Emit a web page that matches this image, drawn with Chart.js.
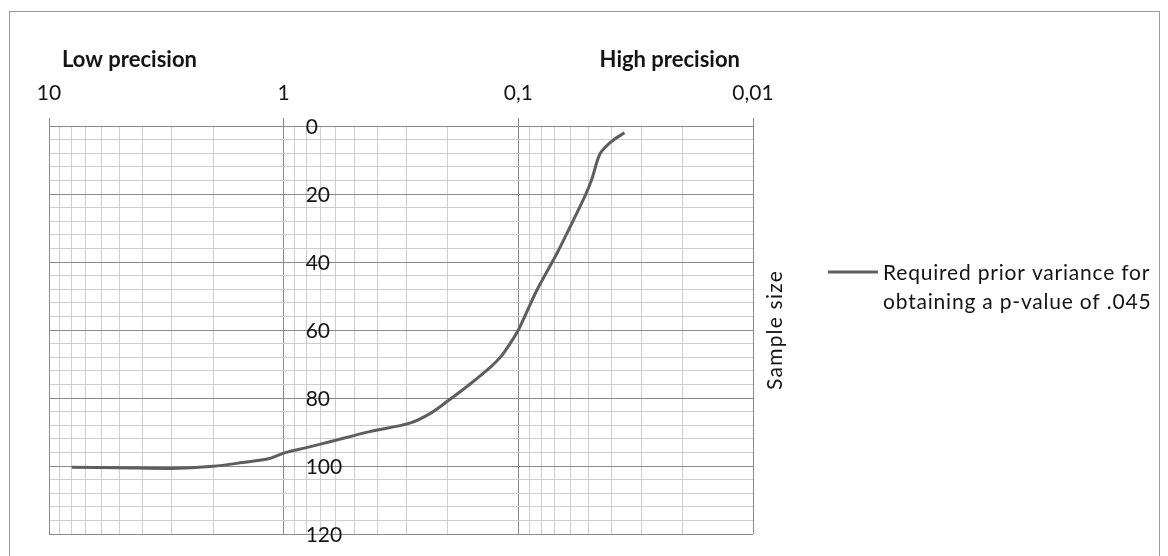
<!DOCTYPE html>
<html><head><meta charset="utf-8">
<script src="https://cdn.jsdelivr.net/npm/chart.js@4/dist/chart.umd.min.js"></script>
<style>html,body{margin:0;padding:0;background:#fff}</style>
</head><body>
<canvas id="c" width="1168" height="556"></canvas>
<script>
// ---- data ----
const priorVariance = [8.0, 5.0, 3.0, 2.0, 1.5, 1.15, 1.0, 0.8, 0.63, 0.43, 0.29, 0.238, 0.2, 0.16, 0.13, 0.118, 0.108, 0.1, 0.0834, 0.0685, 0.0621, 0.0519, 0.0486, 0.0448, 0.04, 0.0353];
const sampleSize    = [100.4, 100.5, 100.7, 100.1, 99.0, 97.8, 96.2, 94.6, 92.8, 89.9, 87.4, 84.6, 80.9, 75.8, 70.6, 67.6, 63.8, 60.0, 48.3, 37.5, 31.6, 20.5, 15.6, 8.1, 4.5, 2.0];
const xTickValues = [10, 1, 0.1, 0.01];
const xTickLabels = ['10', '1', '0,1', '0,01'];
const yTickValues = [0, 20, 40, 60, 80, 100, 120];
const yTickLabels = ['0', '20', '40', '60', '80', '100', '120'];
const legendLines = ['Required prior variance for', 'obtaining a p-value of .045'];
const yTitle = 'Sample size';
const leftNote = 'Low precision';
const rightNote = 'High precision';

const MAJOR = '#8a8a8a', MINOR = '#cdcdcd', LINE = '#5e5e5e';
const FONT = 'Lato';

// grid positions of the log axis: 1..9 within every decade
const decadeStarts = xTickValues.slice(1).reverse(); // 0.01, 0.1, 1
const logGrid = [];
decadeStarts.forEach(d => { for (let k = 1; k <= 9; k++) logGrid.push(k * d); });
logGrid.push(xTickValues[0]);

function decadeIndex(v) {
  return xTickValues.findIndex(t => Math.abs(t - v) / t < 1e-6);
}

const extras = {
  id: 'extras',
  afterDraw(chart) {
    const ctx = chart.ctx, xs = chart.scales.x, ys = chart.scales.y, ca = chart.chartArea;
    ctx.save();
    // outer frame
    ctx.strokeStyle = '#9a9a9a'; ctx.lineWidth = 1;
    ctx.strokeRect(9.5, 11.5, 1150, 600);
    // y tick labels beside x=1 crossing
    ctx.fillStyle = '#141414';
    ctx.font = '21px ' + FONT;
    ctx.textAlign = 'left'; ctx.textBaseline = 'middle';
    const xc = xs.getPixelForValue(1) + 22;
    yTickValues.forEach((v, i) => ctx.fillText(yTickLabels[i], xc, ys.getPixelForValue(v) + 1));
    // precision notes
    ctx.font = 'bold 22px ' + FONT;
    ctx.textAlign = 'left';
    ctx.fillText(leftNote, xs.getPixelForValue(10) + 13, 60);
    ctx.textAlign = 'right';
    ctx.fillText(rightNote, xs.getPixelForValue(0.01) - 13, 60);
    // y title rotated
    ctx.font = '21px ' + FONT;
    ctx.letterSpacing = '1.2px';
    ctx.save();
    ctx.translate(ca.right + 22, (ca.top + ca.bottom) / 2);
    ctx.rotate(-Math.PI / 2);
    ctx.textAlign = 'center'; ctx.textBaseline = 'middle';
    ctx.fillText(yTitle, 0, 0);
    ctx.restore();
    // legend
    const ly = 272;
    ctx.strokeStyle = LINE; ctx.lineWidth = 3;
    ctx.beginPath(); ctx.moveTo(828, ly); ctx.lineTo(878, ly); ctx.stroke();
    ctx.font = '21px ' + FONT;
    ctx.letterSpacing = '0.8px';
    ctx.textAlign = 'left'; ctx.textBaseline = 'middle';
    legendLines.forEach((t, i) => ctx.fillText(t, 883, ly + 1 + i * 29));
    ctx.restore();
  }
};

new Chart(document.getElementById('c'), {
  type: 'scatter',
  data: {
    datasets: [{
      label: legendLines.join(' '),
      data: priorVariance.map((v, i) => ({ x: v, y: sampleSize[i] })),
      showLine: true,
      borderColor: LINE,
      borderWidth: 3,
      pointRadius: 0,
      tension: 0.3,
      fill: false
    }]
  },
  options: {
    responsive: false,
    animation: false,
    devicePixelRatio: 1,
    layout: { padding: { left: 49, right: 415, top: 76, bottom: 22 } },
    plugins: { legend: { display: false }, tooltip: { enabled: false } },
    scales: {
      x: {
        type: 'logarithmic',
        position: 'top',
        reverse: true,
        min: 0.01, max: 10,
        afterFit(s) { s.height = 50; },
        afterBuildTicks(s) { s.ticks = logGrid.map(v => ({ value: v, major: decadeIndex(v) >= 0 })); },
        border: { display: true, color: MAJOR },
        grid: {
          color: c => decadeIndex(c.tick.value) >= 0 ? MAJOR : MINOR,
          tickColor: c => decadeIndex(c.tick.value) >= 0 ? MAJOR : 'rgba(0,0,0,0)',
          tickLength: 8,
          lineWidth: 1
        },
        ticks: {
          autoSkip: false, maxRotation: 0, minRotation: 0,
          padding: 12,
          color: '#141414',
          font: { family: FONT, size: 21 },
          callback: v => { const i = decadeIndex(v); return i >= 0 ? xTickLabels[i] : ''; }
        }
      },
      y: {
        type: 'linear',
        position: 'left',
        reverse: true,
        min: 0, max: 120,
        afterFit(s) { s.width = 0; },
        border: { display: true, color: MAJOR },
        grid: {
          color: c => (c.tick.value % 20 === 0) ? MAJOR : MINOR,
          drawTicks: false,
          lineWidth: 1
        },
        ticks: { display: false, stepSize: 4 }
      }
    }
  },
  plugins: [extras]
});
</script>
</body></html>
